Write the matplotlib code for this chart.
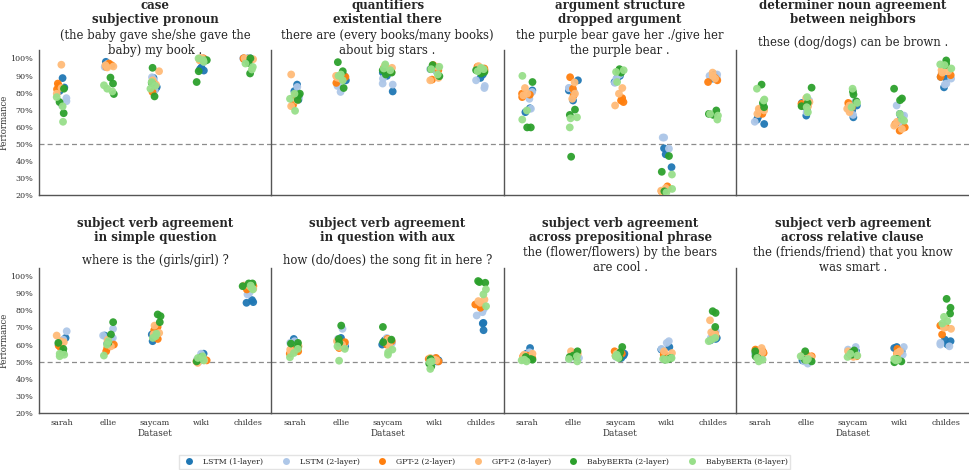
import numpy as np
import pandas as pd
import matplotlib
matplotlib.use('Agg')
import matplotlib.pyplot as plt
import seaborn as sns
from matplotlib.lines import Line2D
from matplotlib.ticker import PercentFormatter

datasets = ['sarah', 'ellie', 'saycam', 'wiki', 'childes']
models = ['LSTM (1-layer)', 'LSTM (2-layer)', 'GPT-2 (2-layer)', 'GPT-2 (8-layer)',
          'BabyBERTa (2-layer)', 'BabyBERTa (8-layer)']
colors = ['#1f77b4', '#aec7e8', '#ff7f0e', '#ffbb78', '#2ca02c', '#98df8a']

# accuracy in %, [dataset][model][run]
case_pronoun = [
    [[88.5, 83, 81], [72.5, 76.8, 75], [85.3, 84, 82], [96.3, 79.4, 82.7], [68, 74.5, 82.3], [63, 77.4, 72]],
    [[98, 97, 96.7], [96, 97, 95], [97, 96, 95], [96, 94.7, 95.3], [79.2, 88.8, 85.3], [80.7, 82.3, 84.3]],
    [[83.3, 82.3, 88.6], [89, 87.2, 81.3], [80.4, 86.4, 84.9], [92.5, 84.7, 87.2], [94.5, 77.8, 85.7], [86.2, 84, 82.3]],
    [[94.7, 93.7, 92.9], [98, 100, 99], [100, 100, 99], [100, 99, 100], [86.2, 92.5, 99], [100, 98, 99]],
    [[100, 100, 99.6], [100, 100, 99.6], [100, 100, 99.6], [100, 100, 99.5], [91.2, 97.4, 100], [97, 95, 93.5]],
]
existential_there = [
    [[84.7, 80.9, 75.8], [83.3, 78.4, 77.4], [78.4, 72.9, 78], [90.6, 72.1, 75.4], [75.8, 79.4, 78.4], [69.4, 76.4, 79.4]],
    [[87.2, 89.8, 88.2], [80.4, 84.7, 83.9], [85.7, 89.2, 87.8], [88.8, 88.2, 89.8], [97.8, 82.7, 92.5], [90.6, 89.8, 87.2]],
    [[80.7, 89.8, 91.7], [85.3, 88.2, 84.7], [93.7, 92.1, 94.5], [95.7, 92.5, 94.5], [90.6, 93.1, 91.7], [96.5, 93.1, 94.1]],
    [[93.1, 94.5, 92.5], [94.1, 92.1, 93.7], [87.6, 96.1, 93.1], [87.2, 88.6, 95.1], [89.6, 96.1, 93.7], [93.7, 90.6, 95.1]],
    [[90.6, 88.6, 94.1], [82.7, 83.9, 87.2], [95.1, 94.1, 93.1], [95.5, 94.5, 93.1], [91.2, 93.1, 92.1], [94.5, 93.7, 92.5]],
]
dropped_argument = [
    [[81.3, 70.9, 68.6], [80.4, 76.4, 70.6], [79.4, 77.4, 78.8], [82.7, 79.4, 78.4], [86.2, 59.7, 59.7], [89.8, 69.6, 64.3]],
    [[87.2, 75.4, 81.3], [82.7, 80.4, 82.7], [89, 82.3, 78.4], [86, 79.4, 76.4], [70.1, 67, 42.6], [65.6, 59.7, 65]],
    [[88.6, 89.8, 86.2], [85.7, 90.6, 88.2], [76.8, 74.5, 75.4], [82.7, 79.4, 72.5], [93.7, 92.5, 91.7], [92.1, 86.2, 93.1]],
    [[47.5, 44, 36.5], [53.8, 53.8, 47.3], [25.3, 23.8, 22.4], [24.3, 22.8, 21.4], [43, 33.8, 22.4], [23.8, 32.2, 21.8]],
    [[89.2, 90.6, 88.2], [90.6, 89.8, 88.6], [86.2, 87.2, 88.6], [91.7, 88.2, 89.8], [69.6, 67.6, 67], [64.3, 66.6, 67.6]],
]
det_noun = [
    [[64.2, 61.7, 65.6], [63, 71.5, 67.6], [67.6, 70.1, 68.6], [70.6, 67.6, 69.6], [84.7, 74, 71.5], [82.3, 76, 75.4]],
    [[66.6, 70.6, 74], [75.4, 72.9, 68.6], [72.5, 73.5, 74.9], [76.8, 72.1, 74.5], [82.9, 72.1, 74], [77.4, 68.6, 71.5]],
    [[65.6, 72.5, 69.6], [67, 74.5, 70.6], [71.5, 74, 72.9], [70.6, 72.5, 68.6], [80.7, 78.9, 74.9], [82.3, 74, 71.5]],
    [[66.6, 67.6, 64.3], [72.5, 66.6, 60.7], [61.7, 57.8, 59.7], [60.7, 63, 58.8], [82.3, 76.6, 75.6], [64.6, 67.6, 63.6]],
    [[83.1, 88.2, 89.2], [85.3, 84.7, 88.2], [90.2, 91.2, 89.2], [93.1, 91.7, 92.5], [98.8, 97, 96.1], [96.5, 96.1, 94.1]],
]
simple_question = [
    [[63.9, 62.5, 60], [67.8, 61, 62.9], [59.4, 60, 58.6], [62, 65.3, 61.4], [61, 55.5, 57.5], [54.1, 53.2, 54.7]],
    [[62.9, 60.6, 65.3], [69.2, 65.3, 63.9], [56.1, 58, 60], [62.9, 59, 62], [73.1, 65.9, 61], [53.6, 60, 62]],
    [[62, 64.3, 65.9], [69.2, 67.2, 64.9], [63.3, 70.3, 68.4], [71.1, 66.8, 65.9], [77.6, 76.6, 73.1], [64.9, 63.9, 66.4]],
    [[54.7, 51.6, 52.2], [54.7, 51.2, 50.2], [50.2, 51.6, 50.8], [49.3, 50.2, 50.8], [51.6, 52.8, 50.2], [52.2, 50.8, 53.2]],
    [[86, 84.8, 84.4], [90.2, 89.3, 92.2], [92.2, 94.1, 93.2], [94.5, 93.8, 92.6], [95.7, 95.7, 94.1], [93.2, 92.2, 94.5]],
]
question_aux = [
    [[63.3, 61.4, 60], [61, 58.6, 62], [54.7, 56.1, 57.1], [57.1, 55.5, 59], [60.6, 58.6, 61], [52.6, 55.1, 57.5]],
    [[63.9, 59, 62], [69.2, 63.3, 60.6], [61.4, 59, 58], [58.6, 60, 62], [71.1, 63.3, 61], [50.6, 57.5, 59]],
    [[62.5, 61.4, 60], [63.9, 62, 61], [63.3, 60, 62], [62.9, 61, 59.4], [70.3, 62.9, 61.4], [54.1, 57.1, 55.5]],
    [[51.6, 50.2, 50.8], [52.2, 51.2, 50.2], [51.6, 52.2, 50.2], [52.2, 51.2, 50.8], [51.6, 47.3, 48.9], [45.8, 49.7, 50.2]],
    [[72.7, 72.3, 68.4], [78.9, 80.9, 77], [82.4, 83.4, 81.5], [86.3, 84.4, 85.4], [97.1, 96.5, 96.1], [92.2, 89.3, 82.4]],
]
across_pp = [
    [[58, 53.2, 54.7], [55.5, 54.1, 54.7], [53.6, 53.2, 52.2], [54.1, 54.7, 52.2], [51.2, 52.8, 51.6], [50.8, 50.2, 51.2]],
    [[53.6, 52.8, 54.1], [53.2, 52.2, 51.6], [55.1, 53.2, 54.1], [56.1, 54.7, 53.2], [56.1, 53.6, 52.8], [50.2, 51.6, 53.2]],
    [[52.2, 54.7, 53.6], [54.1, 52.8, 55.1], [56.1, 54.7, 53.6], [54.7, 53.2, 55.5], [58.6, 52.2, 55.5], [53.2, 52.2, 54.1]],
    [[58.6, 57.1, 52.2], [62, 61, 57.5], [54.7, 54.1, 52.8], [56.1, 55.1, 53.2], [52.2, 51.6, 51.2], [52.2, 51.2, 51.6]],
    [[63.3, 62.5, 63.9], [67.8, 63.9, 66.4], [64.9, 66.4, 65.3], [74.2, 67.2, 65.9], [79.5, 78.5, 70.3], [62.9, 62, 63.9]],
]
across_rc = [
    [[53.6, 53.2, 54.7], [54.1, 52.8, 52.2], [57.1, 56.1, 55.1], [58, 55.5, 54.7], [56.1, 52.2, 53.2], [50.2, 51.2, 52.2]],
    [[52.2, 51.6, 50.8], [48.9, 51.2, 50.2], [54.1, 53.2, 52.2], [54.1, 52.8, 53.6], [56.1, 51.2, 50.2], [53.2, 51.6, 50.8]],
    [[55.1, 54.1, 56.1], [58.6, 57.1, 55.1], [53.6, 53.2, 54.7], [56.1, 54.1, 52.8], [55.5, 56.6, 54.1], [52.8, 53.6, 54.7]],
    [[58.6, 58, 56.1], [58.6, 55.1, 54.1], [57.5, 55.5, 54.7], [53.6, 56.1, 55.1], [49.7, 50.2, 51.6], [51.2, 50.8, 51.6]],
    [[60, 62.9, 62], [61, 59, 60], [65.9, 71.1, 70.3], [69.8, 70.7, 69.2], [86.7, 81.5, 78.1], [76.2, 73.7, 72.3]],
]

headings = ['case\nsubjective pronoun', 'quantifiers\nexistential there',
            'argument structure\ndropped argument', 'determiner noun agreement\nbetween neighbors',
            'subject verb agreement\nin simple question', 'subject verb agreement\nin question with aux',
            'subject verb agreement\nacross prepositional phrase', 'subject verb agreement\nacross relative clause']
sentences = ['(the baby gave she/she gave the\nbaby) my book .',
             'there are (every books/many books)\nabout big stars .',
             'the purple bear gave her ./give her\nthe purple bear .',
             'these (dog/dogs) can be brown .',
             'where is the (girls/girl) ?',
             'how (do/does) the song fit in here ?',
             'the (flower/flowers) by the bears\nare cool .',
             'the (friends/friend) that you know\nwas smart .']
panel_values = [case_pronoun, existential_there, dropped_argument, det_noun,
                simple_question, question_aux, across_pp, across_rc]


def to_frame(values):
    rows = []
    for d, per_model in zip(datasets, values):
        for m, runs in zip(models, per_model):
            for v in runs:
                rows.append({'Dataset': d, 'Model': m, 'Performance': v / 100.0})
    return pd.DataFrame(rows)


sns.set_style('white')
plt.rcParams['font.family'] = ['DejaVu Serif']
plt.rcParams['text.color'] = '#262626'
np.random.seed(3)  # jitter only

fig, axes = plt.subplots(2, 4, figsize=(9.69, 4.70), dpi=100, sharey=True)
fig.subplots_adjust(left=0.040, right=1.0, top=0.894, bottom=0.121, wspace=0, hspace=0.495)

for i, ax in enumerate(axes.flat):
    df = to_frame(panel_values[i])
    sns.stripplot(data=df, x='Dataset', y='Performance', hue='Model', order=datasets,
                  hue_order=models, palette=colors, jitter=0.12, size=5.6,
                  linewidth=0, alpha=0.95, legend=False, ax=ax)
    ax.axhline(0.5, color='#8c8c8c', linestyle='--', linewidth=0.9, dashes=(4, 2.5), zorder=0)
    ax.set_ylim(0.2, 1.05)
    ax.set_xlim(-0.5, 4.5)
    ax.set_yticks(np.arange(0.2, 1.01, 0.1))
    ax.yaxis.set_major_formatter(PercentFormatter(1.0, decimals=0))
    ax.tick_params(length=0, labelsize=5.8, colors='#333333', pad=4)
    for s in ['top', 'right']:
        ax.spines[s].set_visible(False)
    for s in ['left', 'bottom']:
        ax.spines[s].set_color('#555555')
        ax.spines[s].set_linewidth(1.0)
    ax.text(0.5, 1.255, headings[i], transform=ax.transAxes, ha='center', va='center',
            fontsize=8.5, fontweight='bold', linespacing=1.08)
    ax.text(0.5, 1.05, sentences[i], transform=ax.transAxes, ha='center', va='center',
            fontsize=8.4, linespacing=1.2)
    if i % 4 == 0:
        ax.set_ylabel('Performance', fontsize=6.2, color='#333333', labelpad=1)
    else:
        ax.set_ylabel('')
    if i < 4:
        ax.set_xlabel('')
        ax.set_xticklabels([])
    else:
        ax.set_xlabel('Dataset', fontsize=6.4, color='#333333', labelpad=2)

handles = [Line2D([], [], marker='o', linestyle='', markersize=5.0, markeredgewidth=0,
                  color=c, label=m) for m, c in zip(models, colors)]
fig.legend(handles=handles, loc='lower center', bbox_to_anchor=(0.5, -0.006), ncol=6,
           fontsize=5.6, frameon=True, borderpad=0.35, handletextpad=0.8,
           columnspacing=1.9, edgecolor='#dddddd', fancybox=False)

plt.savefig('out.png', dpi=100)
plt.close(fig)
